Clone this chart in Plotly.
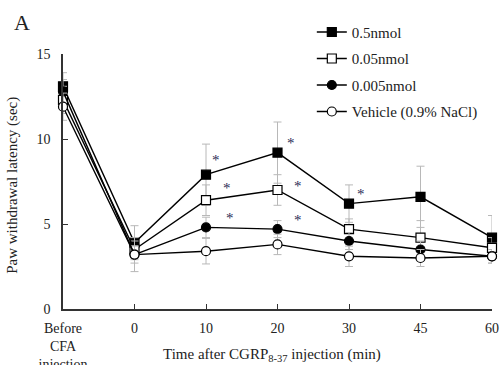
import plotly.graph_objects as go

categories = ["Before<br>CFA<br>injection", "0", "10", "20", "30", "45", "60"]
x_idx = [0, 1, 2, 3, 4, 5, 6]

s05 = [13.1, 3.9, 7.9, 9.2, 6.2, 6.6, 4.2]
e05 = [0.8, 1.0, 1.8, 1.8, 1.1, 1.8, 1.3]
s005 = [12.3, 3.5, 6.4, 7.0, 4.7, 4.2, 3.6]
e005 = [0.8, 0.5, 0.9, 0.9, 0.6, 1.0, 0.6]
s0005 = [12.8, 3.2, 4.8, 4.7, 4.0, 3.5, 3.1]
e0005 = [0.7, 0.5, 0.6, 0.5, 0.5, 0.5, 0.4]
veh = [11.9, 3.2, 3.4, 3.8, 3.1, 3.0, 3.1]
eveh = [0.8, 1.0, 0.75, 0.6, 0.6, 0.5, 0.4]

names = ["0.5nmol", "0.05nmol", "0.005nmol", "Vehicle (0.9% NaCl)"]
symbols = ["square", "square-open", "circle", "circle-open"]

# significance asterisks (x index, y value)
ast_x = [2.1, 2.25, 2.3, 3.14, 3.24, 3.24, 4.13]
ast_y = [9.1, 7.5, 5.7, 10.1, 7.6, 5.6, 7.1]

FONT = "Liberation Serif, Times New Roman, serif"

fig = go.Figure()
series = [(s05, e05), (s005, e005), (s0005, e0005), (veh, eveh)]
for i, ((ys, es), nm, sym) in enumerate(zip(series, names, symbols)):
    fill = "black" if sym in ("square", "circle") else "white"
    fig.add_trace(go.Scatter(
        x=x_idx, y=ys, name=nm, mode="lines+markers",
        line=dict(color="black", width=1.4),
        marker=dict(symbol=sym.replace("-open", ""), size=9, color=fill,
                    line=dict(color="black", width=1.2)),
        error_y=dict(type="data", array=es, visible=True, color="#b8b8b8",
                     thickness=1, width=4),
        cliponaxis=False, legendgroup=str(i),
    ))

for ax, ay in zip(ast_x, ast_y):
    fig.add_annotation(x=ax, y=ay, text="*", showarrow=False, xshift=3, yshift=-6,
                       font=dict(family=FONT, size=15, color="#2b2b55"))

fig.add_annotation(xref="paper", yref="paper", x=0.487, y=0, yanchor="middle",
                   yshift=-46,
                   text="Time after CGRP<sub>8-37</sub> injection (min)", showarrow=False,
                   font=dict(family=FONT, size=15, color="#222"))
fig.add_annotation(xref="paper", yref="paper", x=-0.1166, y=0.487, textangle=-90,
                   xanchor="center", yanchor="middle",
                   text="Paw withdrawal latency (sec)", showarrow=False,
                   font=dict(family=FONT, size=15, color="#222"))
fig.add_annotation(xref="paper", yref="paper", x=-0.095, y=1.125, xanchor="center",
                   yanchor="middle", text="A", showarrow=False,
                   font=dict(family=FONT, size=22, color="#222"))

fig.update_layout(
    width=500, height=365,
    margin=dict(l=63, r=8, t=54, b=56, autoexpand=False),
    paper_bgcolor="white", plot_bgcolor="white",
    font=dict(family=FONT, size=14, color="#222"),
    showlegend=True,
    legend=dict(x=0.58, y=1.15, xanchor="left", yanchor="top",
                font=dict(family=FONT, size=15, color="#222"),
                bgcolor="rgba(0,0,0,0)", tracegroupgap=4, itemwidth=30),
    xaxis=dict(range=[0, 6], tickmode="array", tickvals=x_idx, ticktext=categories,
               showline=True, linecolor="#333", linewidth=1.5, ticks="inside",
               ticklen=5, tickcolor="#333", showgrid=False, zeroline=False,
               tickfont=dict(family=FONT, size=14), ticklabelstandoff=5,
               automargin=False),
    yaxis=dict(range=[0, 15], tickvals=[0, 5, 10, 15], showline=True,
               linecolor="#333", linewidth=1.5, ticks="inside", ticklen=5,
               tickcolor="#333", showgrid=False, zeroline=False,
               tickfont=dict(family=FONT, size=14), ticklabelstandoff=8,
               automargin=False),
)

fig.write_html("out.html")
